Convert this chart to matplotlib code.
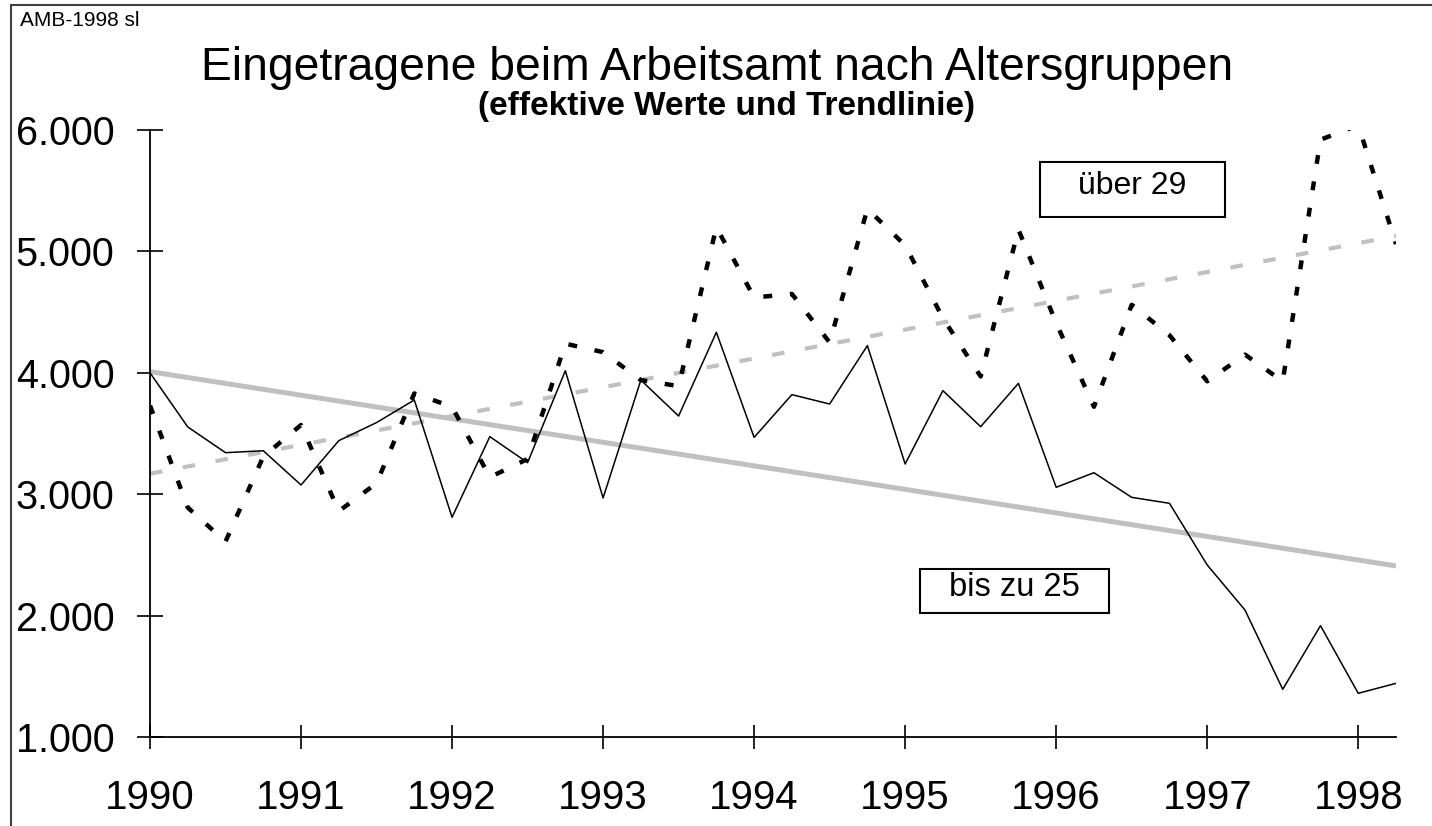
import numpy as np
import matplotlib
matplotlib.use("Agg")
import matplotlib.pyplot as plt
from matplotlib.patches import Rectangle

plt.rcParams['font.family'] = ['Liberation Sans', 'DejaVu Sans']

# quarterly data 1990 Q1 .. 1998 Q2
quarters = np.arange(34) / 4 + 1990
bis_zu_25 = [4000, 3554, 3342, 3358, 3076, 3441, 3590, 3776, 2810, 3474,
             3260, 4017, 2969, 3940, 3644, 4334, 3468, 3820, 3743, 4224,
             3249, 3853, 3556, 3913, 3057, 3177, 2974, 2925, 2417, 2046,
             1393, 1917, 1360, 1442]
ueber_29 = [3730, 2890, 2610, 3310, 3570, 2860, 3090, 3830, 3720, 3140,
            3290, 4240, 4170, 3940, 3890, 5200, 4620, 4650, 4250, 5350,
            5050, 4450, 3970, 5180, 4410, 3720, 4560, 4310, 3930, 4150,
            3930, 5920, 6040, 5060]
year_ticks = list(range(1990, 1999))
y_ticks = [1000, 2000, 3000, 4000, 5000, 6000]
y_labels = ['1.000', '2.000', '3.000', '4.000', '5.000', '6.000']

W, H = 1432, 826
fig = plt.figure(figsize=(W / 100, H / 100), dpi=100)
fig.patch.set_facecolor('white')

# outer frame (left and top edges visible)
fig.add_artist(Rectangle((11 / W, -0.1), 1.2, (826 - 5) / H + 0.1,
                         transform=fig.transFigure, fill=False,
                         edgecolor='#404040', linewidth=1.5))

ax = fig.add_axes([150 / W, (826 - 737) / H, (1396 - 150) / W, (737 - 130) / H])
ax.set_xlim(1990, 1998.25)
ax.set_ylim(1000, 6000)
for s in ['top', 'right']:
    ax.spines[s].set_visible(False)
for s in ['left', 'bottom']:
    ax.spines[s].set_linewidth(1.3)
    ax.spines[s].set_color('black')

# trend lines (linear fit)
x = np.asarray(quarters)
p1 = np.polyfit(x, bis_zu_25, 1)
p2 = np.polyfit(x, ueber_29, 1)
ax.plot(x, np.polyval(p1, x), color='#c0c0c0', lw=3.6, solid_capstyle='butt', zorder=2)
ax.plot(x, np.polyval(p2, x), color='#c0c0c0', lw=3.0, linestyle=(0, (3, 5)), zorder=2)

ax.plot(x, bis_zu_25, color='black', lw=1.1, zorder=3)
ax.plot(x, ueber_29, color='black', lw=3.2, linestyle=(0, (2, 4)), zorder=3)

ax.set_xticks(year_ticks)
ax.set_xticklabels([str(y) for y in year_ticks], fontsize=29)
ax.set_yticks(y_ticks)
ax.set_yticklabels(y_labels, fontsize=28.5)
ax.tick_params(axis='x', direction='inout', length=17, width=1.2, pad=22)
ax.tick_params(axis='y', direction='inout', length=19, width=1.2, pad=16)
ax.patch.set_alpha(0)
for sp in ax.spines.values():
    sp.set_zorder(4)

fig.text(20 / W, 1 - 21 / H, 'AMB-1998 sl', fontsize=15, ha='left', va='center')
fig.text(717 / W, 1 - 68 / H, 'Eingetragene beim Arbeitsamt nach Altersgruppen',
         fontsize=33.3, ha='center', va='center')
fig.text(727 / W, 1 - 106 / H, '(effektive Werte und Trendlinie)',
         fontsize=24, fontweight='bold', ha='center', va='center')

# label boxes
for (l, t, r, b, fs, txt) in [(1040, 162, 1225, 217, 23, 'über 29'),
                              (920, 569, 1109, 613, 23.5, 'bis zu 25')]:
    fig.add_artist(Rectangle((l / W, 1 - b / H), (r - l) / W, (b - t) / H,
                             transform=fig.transFigure, facecolor='white',
                             edgecolor='black', linewidth=1.5, zorder=5))
    fig.text((l + r) / 2 / W, 1 - ((t + b) / 2 - 4) / H, txt, fontsize=fs,
             ha='center', va='center', zorder=6)

fig.savefig('out.png', dpi=100)
